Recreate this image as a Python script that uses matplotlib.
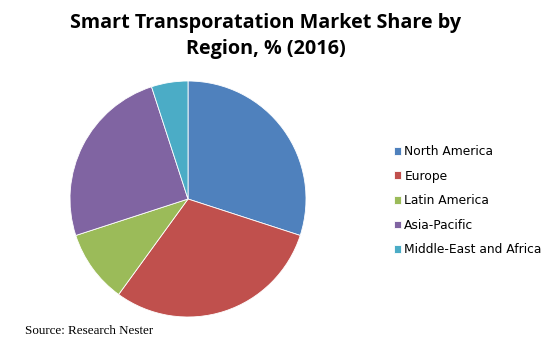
import matplotlib
matplotlib.use("Agg")
import matplotlib.pyplot as plt

regions = ["North America", "Europe", "Latin America", "Asia-Pacific",
           "Middle-East and Africa"]
shares = [30, 30, 10, 25, 5]
colors = ["#4F81BD", "#C0504D", "#9BBB59", "#8064A2", "#4BACC6"]

title = "Smart Transporatation Market Share by\nRegion, % (2016)"
source = "Source: Research Nester"

fig = plt.figure(figsize=(5.56, 3.51), dpi=100)
fig.patch.set_facecolor("white")

# pie placed in pixel terms: centre ~(188,199), radius ~118
ax = fig.add_axes([(188 - 118) / 556, (351 - 317) / 351, 236 / 556, 236 / 351])
wedges, _ = ax.pie(shares, colors=colors, startangle=90, counterclock=False,
                   radius=1.0, wedgeprops=dict(edgecolor="white", linewidth=0.6))
ax.set_xlim(-1, 1)
ax.set_ylim(-1, 1)
ax.set_aspect("equal")
ax.axis("off")

fig.text(266 / 556, 1 - 36 / 351, title, ha="center", va="center",
         fontsize=14.2, fontweight="bold", family="Open Sans", linespacing=1.45)

fig.legend(wedges, regions, loc="upper left", bbox_to_anchor=(394 / 556, 1 - 145 / 351),
           frameon=False, fontsize=8.8, handlelength=0.6, handleheight=0.6,
           handletextpad=0.25, labelspacing=0.95, borderaxespad=0, borderpad=0)

fig.text(25 / 556, 1 - 331 / 351, source, ha="left", va="center",
         fontsize=9.4, family="Liberation Serif")

fig.savefig("out.png", dpi=100)
